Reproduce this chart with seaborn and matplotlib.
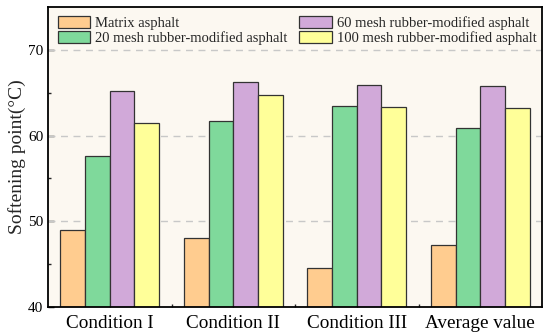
import matplotlib
matplotlib.use("Agg")
import matplotlib.pyplot as plt
import seaborn as sns
import pandas as pd
from matplotlib.ticker import FixedLocator

categories = ["Condition I", "Condition II", "Condition III", "Average value"]
series = ["Matrix asphalt", "20 mesh rubber-modified asphalt",
          "60 mesh rubber-modified asphalt", "100 mesh rubber-modified asphalt"]
matrix = [49.0, 48.1, 44.5, 47.2]
mesh20 = [57.6, 61.7, 63.4, 60.9]
mesh60 = [65.2, 66.3, 65.9, 65.8]
mesh100 = [61.5, 64.7, 63.3, 63.2]
colors = ["#FFCC8F", "#7FD99B", "#D1A9D9", "#FFFF99"]

rows = []
for s, vals in zip(series, [matrix, mesh20, mesh60, mesh100]):
    for c, v in zip(categories, vals):
        rows.append({"cat": c, "series": s, "value": v})
df = pd.DataFrame(rows)

sns.set_theme(style="ticks")
plt.rcParams["font.family"] = ["Liberation Serif", "DejaVu Serif"]

fig = plt.figure(figsize=(5.5, 3.36), dpi=100)
ax = fig.add_axes([48/550, 1 - 307/336, 494/550, 300/336])
ax.set_facecolor("#FCF8F1")

sns.barplot(data=df, x="cat", y="value", hue="series", order=categories,
            hue_order=series, palette=colors, width=0.8, ax=ax,
            edgecolor="#333333", linewidth=0.9, saturation=1, zorder=3)

ax.set_ylim(40, 75)
ax.set_xlim(-0.5, 3.5)
ax.yaxis.set_major_locator(FixedLocator([40, 50, 60, 70]))
ax.yaxis.set_minor_locator(FixedLocator([45, 55, 65]))
ax.xaxis.set_minor_locator(FixedLocator([0.5, 1.5, 2.5]))
for y in [50, 60, 70]:
    ax.axhline(y, color="#C8C8C8", linestyle=(0, (5, 4)), linewidth=1, zorder=1)

ax.tick_params(axis="both", which="major", direction="in", length=4, width=1,
               colors="black")
ax.tick_params(axis="both", which="minor", direction="in", length=2.5, width=1)
ax.tick_params(axis="x", labelsize=13.8, pad=6)
ax.tick_params(axis="y", labelsize=11)
ax.set_xlabel("")
ax.set_ylabel("Softening point(°C)", fontsize=14, labelpad=1)
for sp in ax.spines.values():
    sp.set_visible(True)
    sp.set_color("black")
    sp.set_linewidth(1.3)
    sp.set_zorder(10)

ax.legend(loc="upper left", bbox_to_anchor=(0.003, 1.0), ncol=2, frameon=False,
          fontsize=10.5, handlelength=2.2, handleheight=0.95, columnspacing=0.8,
          labelspacing=0.05, handletextpad=0.35, borderaxespad=0.2)

fig.savefig("out.png", dpi=100)
